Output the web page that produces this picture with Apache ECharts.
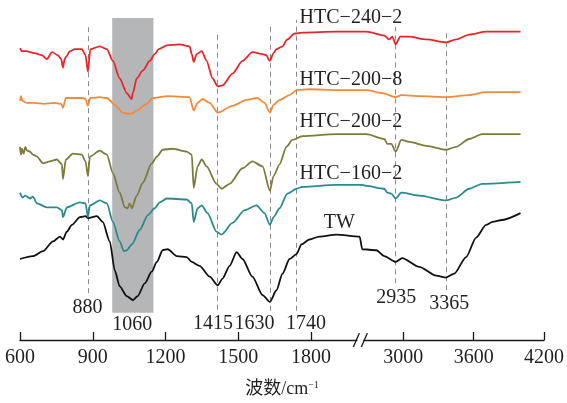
<!DOCTYPE html>
<html>
<head>
<meta charset="utf-8">
<script src="https://cdn.jsdelivr.net/npm/echarts@6/dist/echarts.min.js"></script>
<style>
  html, body { margin: 0; padding: 0; background: #fff; }
  #chart { width: 567px; height: 403px; }
</style>
</head>
<body>
<div id="chart"></div>
<script>
// FTIR spectra, offset vertically (arbitrary transmittance units).
// Each entry: [wavenumber (cm-1), offset transmittance]
const tw = [
  [600,83],[653,86],[695,91],[736,101],[765,106],[777,103],[793,111],[814,118],[847,126],[871,127],
  [880,125],[917,127],[941,121],[970,101],[991,71],[1011,55],[1040,45],[1065,41],[1085,45],[1114,58],
  [1143,70],[1164,80],[1188,92],[1209,93],[1246,86],[1287,85],[1308,80],[1340,76],[1382,65],[1415,56],
  [1435,63],[1464,76],[1493,90],[1517,83],[1558,65],[1600,46],[1630,39],[1657,51],[1682,68],[1711,83],
  [1740,88],[1760,98],[1793,103],[1834,106],[1904,108],[2000,106],
  [2650,93],[2770,92],[2838,86],[2935,80],[2991,84],[3136,75],[3281,66],[3365,64],[3434,68],[3536,85],
  [3621,105],[3706,118],[3760,121],[3843,123],[4000,130]
];
const htc160_2 = [
  [600,151],[610,146],[622,148],[641,145],[653,147],[670,140],[711,136],[752,136],[773,133],[777,126],
  [793,136],[847,141],[870,140],[880,126],[888,138],[929,143],[958,140],[983,121],[1011,101],[1028,91],
  [1040,92],[1061,98],[1094,113],[1127,128],[1155,135],[1176,141],[1205,145],[1287,144],[1308,140],[1316,121],
  [1332,135],[1349,138],[1373,130],[1410,111],[1431,108],[1476,120],[1526,133],[1575,138],[1608,130],[1630,118],
  [1645,126],[1670,135],[1702,150],[1740,155],[1764,157],[1904,159],[2000,159],
  [2650,159],[2685,158],[2838,155],[2864,151],[2898,150],[2935,145],[2983,151],[3136,148],[3365,143],[3451,146],
  [3562,155],[3672,160],[4000,162]
];
const htc200_2 = [
  [600,198],[604,190],[608,196],[615,191],[622,198],[629,194],[641,193],[653,190],[670,188],[695,181],
  [723,183],[752,185],[773,180],[777,165],[789,185],[818,191],[855,190],[870,183],[880,168],[888,188],
  [929,194],[958,190],[983,171],[1011,151],[1032,136],[1044,135],[1052,140],[1061,135],[1081,148],[1106,161],
  [1143,181],[1164,188],[1188,195],[1229,196],[1287,193],[1308,190],[1316,156],[1332,178],[1349,185],[1369,178],
  [1410,160],[1431,155],[1464,160],[1517,176],[1558,183],[1600,178],[1630,153],[1645,168],[1670,180],[1698,198],
  [1723,205],[1764,209],[1904,211],[2000,211],
  [2650,211],[2685,211],[2838,206],[2864,201],[2898,201],[2935,193],[2983,205],[3051,203],[3196,199],[3365,195],
  [3451,198],[3562,206],[3672,211],[4000,211]
];
const htc200_8 = [
  [600,245],[604,250],[610,245],[629,243],[660,243],[700,242],[740,243],[770,242],[777,238],[789,248],
  [826,248],[859,248],[870,247],[880,240],[890,248],[929,249],[958,248],[991,241],[1024,233],[1044,232],
  [1060,232],[1081,235],[1122,242],[1147,248],[1176,249],[1205,250],[1299,249],[1316,235],[1332,243],[1353,247],
  [1382,243],[1415,233],[1476,240],[1534,246],[1579,248],[1608,243],[1630,233],[1645,241],[1670,246],[1711,251],
  [1740,256],[1793,257],[1904,256],[2000,256],
  [2650,256],[2685,256],[2821,253],[2935,249],[2983,251],[3136,250],[3365,249],[3562,251],[3706,254],[4000,254]
];
const htc240_2 = [
  [600,299],[608,296],[625,296],[660,294],[690,292],[711,288],[732,295],[755,292],[770,288],[777,279],
  [784,288],[789,290],[806,296],[826,298],[855,298],[870,292],[880,275],[890,298],[929,301],[958,298],
  [983,286],[1011,268],[1040,253],[1060,247],[1065,253],[1081,268],[1106,276],[1135,286],[1155,293],[1172,298],
  [1205,302],[1258,303],[1299,301],[1308,293],[1316,285],[1328,293],[1349,296],[1369,286],[1394,268],[1415,260],
  [1435,261],[1476,273],[1517,286],[1558,295],[1600,293],[1615,292],[1630,286],[1645,294],[1657,298],[1682,301],
  [1702,308],[1731,314],[1764,315],[1904,316],[2000,316],
  [2650,316],[2685,316],[2838,312],[2881,308],[2906,311],[2935,303],[2974,311],[3051,311],[3196,308],[3365,305],
  [3451,308],[3562,313],[3706,316],[4000,316]
];

const seriesNames = ['TW', 'HTC−160−2', 'HTC−200−2', 'HTC−200−8', 'HTC−240−2'];
const seriesData = [tw, htc160_2, htc200_2, htc200_8, htc240_2];
const seriesColors = ['#111111', '#2b8a8c', '#7b7b3b', '#f5893a', '#e8262a'];

// axis tick labels (cm-1) and marked absorption bands
const tickLabels = [600, 900, 1200, 1500, 1800, 3000, 3600, 4200];
const bandLines = [880, 1415, 1630, 1740, 2935, 3365];
const shadedBand = [980, 1150];

// Broken axis: 600–2000 at full scale, 2650–4200 at roughly half scale.
const BREAK_AT = 2000;
const RIGHT_ORIGIN = 2180;   // axis coordinate of 3000 cm-1
const RIGHT_SCALE = 0.4833;
const toAxis = w => w <= BREAK_AT ? w : RIGHT_ORIGIN + (w - 3000) * RIGHT_SCALE;
const fromAxis = u => u <= BREAK_AT + 5 ? u : 3000 + (u - RIGHT_ORIGIN) / RIGHT_SCALE;

const FONT = "'Liberation Serif', 'Times New Roman', serif";
const TXT = '#231f20';

// dashed marker lines: [y from, y to]
const lineSpans = { 880: [48, 323], 1415: [31, 315], 1630: [30, 321], 1740: [30, 328], 2935: [58, 321], 3365: [51, 318] };
// text positions for band labels: [axis-x in cm-1 scale, y]
const bandLabelPos = {
  '880': [878, 33], '1060': [1063, 16], '1415': [1396, 17], '1630': [1567, 17],
  '1740': [1779, 17], '2935': [2151, 43], '3365': [2369, 37]
};
const nameLabelPos = [[1916, 120], [1964, 170], [1964, 224], [1964, 267], [1964, 330]];

const chart = echarts.init(document.getElementById('chart'), null, { renderer: 'canvas' });

const series = seriesData.map((d, i) => ({
  name: seriesNames[i],
  type: 'line',
  data: d.map(p => [toAxis(p[0]), p[1]]),
  symbol: 'none',
  smooth: 0.25,
  smoothMonotone: 'x',
  lineStyle: { color: seriesColors[i], width: 1.8 },
  z: 5,
  markPoint: {
    symbol: 'circle', symbolSize: 1, silent: true,
    itemStyle: { color: 'rgba(0,0,0,0)' },
    label: { show: true, position: 'inside', color: TXT, fontFamily: FONT, fontSize: 20,
      formatter: () => seriesNames[i] },
    data: [{ coord: nameLabelPos[i] }]
  }
}));

// shaded region, dashed guide lines and their labels
series.push({
  type: 'line', data: [], silent: true, z: 1,
  markArea: {
    silent: true,
    itemStyle: { color: '#b5b6b8' },
    data: [[{ coord: [toAxis(shadedBand[0]), 28] }, { coord: [toAxis(shadedBand[1]), 330] }]]
  },
  markLine: {
    silent: true, symbol: 'none',
    label: { show: false },
    lineStyle: { color: '#8a8a8a', type: [5, 4], width: 1 },
    data: bandLines.map(w => [
      { coord: [toAxis(w), lineSpans[w][0]] },
      { coord: [toAxis(w), lineSpans[w][1]] }
    ])
  },
  markPoint: {
    symbol: 'circle', symbolSize: 1, silent: true,
    itemStyle: { color: 'rgba(0,0,0,0)' },
    label: { show: true, position: 'inside', color: TXT, fontFamily: FONT, fontSize: 20,
      formatter: p => p.name },
    data: Object.keys(bandLabelPos).map(k => ({ name: k, coord: bandLabelPos[k] }))
  }
});

const tickAxisValues = tickLabels.map(toAxis);

chart.setOption({
  animation: false,
  backgroundColor: '#fff',
  grid: { left: 20, right: 22, top: 18, bottom: 55 },
  xAxis: {
    type: 'value',
    min: 600,
    max: toAxis(4200),
    name: '{a|波数/cm}{s|−1}',
    nameLocation: 'middle',
    nameGap: 40,
    nameTextStyle: {
      rich: {
        a: { fontFamily: "'Liberation Serif', 'Noto Sans CJK SC', serif", fontSize: 18, color: TXT },
        s: { fontFamily: FONT, fontSize: 10, color: TXT, verticalAlign: 'top', padding: [0, 0, 8, 0] }
      }
    },
    axisLine: { show: true, lineStyle: { color: '#1a1a1a', width: 1.3 } },
    axisTick: { show: true, inside: true, length: 8, customValues: tickAxisValues,
      lineStyle: { color: '#1a1a1a', width: 1.3 } },
    axisLabel: {
      customValues: tickAxisValues,
      margin: 8,
      color: TXT, fontFamily: FONT, fontSize: 20,
      formatter: v => String(Math.round(fromAxis(v) / 100) * 100)
    },
    splitLine: { show: false }
  },
  yAxis: { type: 'value', min: 0, max: 330, show: false },
  series: series
});

// break marker on the x axis between the two scales
function drawBreak() {
  const p = chart.convertToPixel({ xAxisIndex: 0, yAxisIndex: 0 }, [toAxis(BREAK_AT) + 3, 0]);
  const x = p[0], y = p[1];
  chart.setOption({
    graphic: [
      { type: 'rect', shape: { x: x - 3, y: y - 2, width: 6, height: 4 }, style: { fill: '#fff' }, z: 100 },
      { type: 'line', shape: { x1: x - 7, y1: y + 7, x2: x - 1, y2: y - 7 }, style: { stroke: '#1a1a1a', lineWidth: 1.3 }, z: 101 },
      { type: 'line', shape: { x1: x + 1, y1: y + 7, x2: x + 7, y2: y - 7 }, style: { stroke: '#1a1a1a', lineWidth: 1.3 }, z: 101 }
    ]
  });
}
drawBreak();
</script>
</body>
</html>
